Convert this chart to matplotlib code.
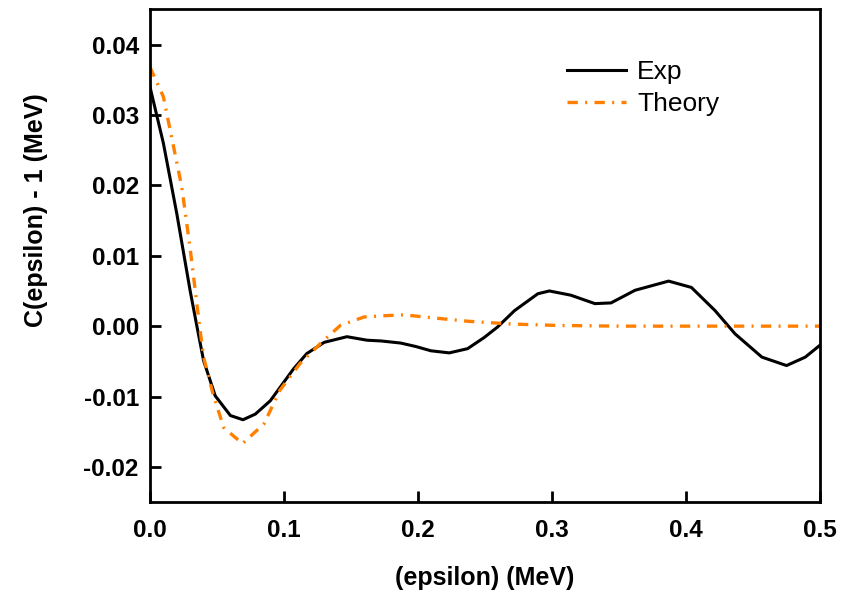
import matplotlib
matplotlib.use("Agg")
import matplotlib.pyplot as plt

plt.rcParams['font.family'] = ['Liberation Sans', 'DejaVu Sans']
plt.rcParams['axes.unicode_minus'] = False

# values
exp_x = [0.0, 0.010, 0.020, 0.030, 0.035, 0.040, 0.0487, 0.060, 0.0694, 0.0786,
         0.0898, 0.107, 0.117, 0.130, 0.147, 0.162, 0.1722, 0.187, 0.1985, 0.2096,
         0.2233, 0.237, 0.2495, 0.2595, 0.272, 0.2894, 0.298, 0.314, 0.332, 0.344,
         0.362, 0.387, 0.404, 0.4217, 0.4366, 0.4566, 0.475, 0.489, 0.500]
exp_y = [0.034, 0.026, 0.016, 0.005, 0.0, -0.0049, -0.0099, -0.0127, -0.0133, -0.0125,
         -0.0106, -0.0061, -0.0039, -0.0023, -0.0015, -0.0020, -0.0021, -0.0024, -0.0029, -0.0035,
         -0.0038, -0.0032, -0.0016, -0.0001, 0.0022, 0.0046, 0.0050, 0.0044, 0.0032, 0.0033,
         0.0051, 0.0064, 0.0055, 0.0022, -0.0011, -0.0044, -0.0056, -0.0044, -0.0027]

th_x = [0.0, 0.010, 0.0237, 0.030, 0.037, 0.040, 0.047, 0.055, 0.069, 0.085,
        0.097, 0.112, 0.127, 0.142, 0.1597, 0.177, 0.1897, 0.210, 0.237, 0.270,
        0.304, 0.350, 0.400, 0.450, 0.500]
th_y = [0.0368, 0.0326, 0.0198, 0.011, 0.0, -0.0044, -0.0096, -0.0144, -0.0167, -0.0139,
        -0.0091, -0.0053, -0.0025, 0.0001, 0.0013, 0.0015, 0.0016, 0.0012, 0.0007, 0.0003,
        0.0001, 0.0, 0.0, 0.0, 0.0]

x_ticks = [0.0, 0.1, 0.2, 0.3, 0.4, 0.5]
y_ticks = [-0.02, -0.01, 0.00, 0.01, 0.02, 0.03, 0.04]

fig = plt.figure(figsize=(8.56, 5.90), dpi=100)
ax = fig.add_axes([0.1752, 0.149, 0.7828, 0.835])

ax.plot(exp_x, exp_y, color='black', lw=2.2, label='Exp')
ax.plot(th_x, th_y, color='#ff8000', lw=2.4, linestyle=(0, (3.1, 2.2, 0.6, 2.2)),
        label='Theory')

ax.set_xlim(0, 0.5)
ax.set_ylim(-0.025, 0.045)
ax.set_xticks(x_ticks)
ax.set_yticks(y_ticks)
ax.set_xticklabels(['%.1f' % v for v in x_ticks])
ax.set_yticklabels(['%.2f' % v for v in y_ticks])

for s in ax.spines.values():
    s.set_linewidth(2.0)
ax.tick_params(direction='in', length=8, width=2, labelsize=17.5)
ax.tick_params(axis='x', pad=12)
ax.tick_params(axis='y', pad=8)
for lab in ax.get_xticklabels() + ax.get_yticklabels():
    lab.set_fontweight('bold')

ax.set_xlabel('(epsilon) (MeV)', fontsize=18, fontweight='bold', va='center')
ax.xaxis.set_label_coords(0.5, -0.154)
ax.set_ylabel('C(epsilon) - 1 (MeV)', fontsize=18, fontweight='bold', va='center')
ax.yaxis.set_label_coords(-0.170, 0.593)

ax.legend(loc='upper left', bbox_to_anchor=(567 / 856, 1 - 60 / 590),
          bbox_transform=fig.transFigure, frameon=False, fontsize=19,
          borderpad=0, borderaxespad=0, handlelength=2.24, handletextpad=0.42,
          labelspacing=0.3)

fig.savefig('out.png', dpi=100)
